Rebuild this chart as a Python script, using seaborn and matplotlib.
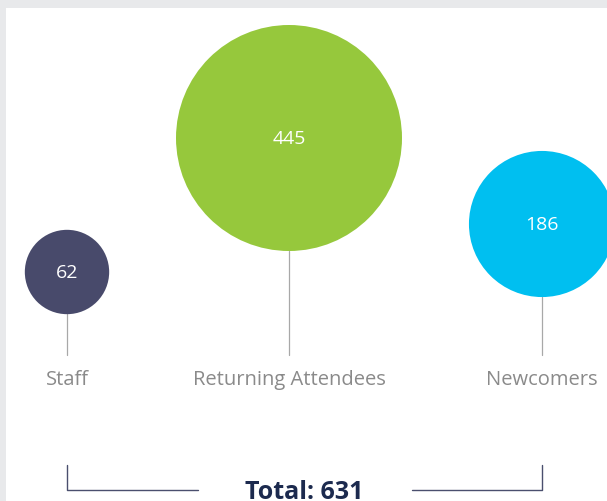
import matplotlib
matplotlib.use("Agg")
import matplotlib.pyplot as plt
import seaborn as sns
import numpy as np
import pandas as pd

# ---- data ----
categories = ["Staff", "Returning Attendees", "Newcomers"]
values = [62, 445, 186]
bubble_x = [67, 289, 542]
bubble_y = [272, 138, 224]
colors = ["#484a6b", "#96c83c", "#00bff0"]
total_label = "Total: 631"

df = pd.DataFrame({"cat": categories, "value": values, "x": bubble_x, "y": bubble_y})

sns.set_theme(style="white")
plt.rcParams["font.family"] = ["Open Sans", "DejaVu Sans"]

W, H = 607, 501
fig = plt.figure(figsize=(W / 100, H / 100), dpi=100, facecolor="#e8e9eb")
ax = fig.add_axes([6 / W, 0, (W - 6) / W, (H - 8) / H])
ax.set_facecolor("white")
ax.set_xlim(6, W)
ax.set_ylim(H, 8)
for sp in ax.spines.values():
    sp.set_visible(False)
ax.set_xticks([])
ax.set_yticks([])

# bubble radius in pixels: area proportional to value
r_max_px = 113
vmax = max(values)
radii = [r_max_px * np.sqrt(v / vmax) for v in values]
s_max = (2 * r_max_px * 0.72) ** 2  # marker area in pt^2

sns.scatterplot(data=df, x="x", y="y", hue="cat", palette=dict(zip(categories, colors)),
                size="value", sizes=(0, s_max), size_norm=(0, vmax),
                edgecolor="none", linewidth=0, legend=False, ax=ax, zorder=3, clip_on=False)
ax.set_xlabel("")
ax.set_ylabel("")

label_y = 380
line_end = 355
for xi, yi, ri, v, c in zip(bubble_x, bubble_y, radii, values, categories):
    ax.plot([xi, xi], [yi + ri, line_end], color="#a8a8a8", lw=0.9, zorder=2)
    ax.text(xi, yi + 1, str(v), color="white", fontsize=14, ha="center", va="center", zorder=4)
    ax.text(xi, label_y, c, color="#8a8a8a", fontsize=14.5, ha="center", va="center")

# bracket with total
bc = "#4a4f6e"
left, right = bubble_x[0], bubble_x[-1]
top, bot = 465, 490
ax.plot([left, left, 198], [top, bot, bot], color=bc, lw=1.0, clip_on=False)
ax.plot([412, right, right], [bot, bot, top], color=bc, lw=1.0, clip_on=False)
ax.text((left + right) / 2, 499, total_label, color="#1c2a4e", fontsize=18,
        fontweight="bold", ha="center", va="baseline", clip_on=False)

fig.savefig("out.png", dpi=100, facecolor=fig.get_facecolor())
